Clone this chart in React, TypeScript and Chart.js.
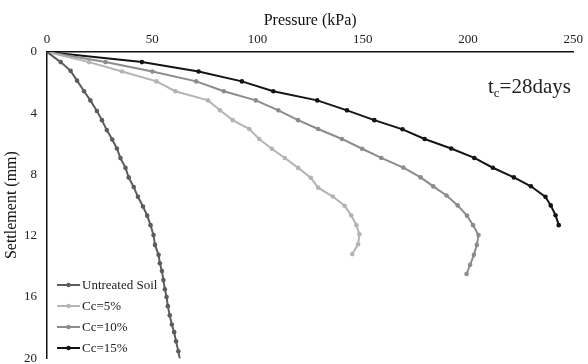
import React, { useEffect, useRef } from "react";
import { Chart, registerables } from "chart.js";

Chart.register(...registerables);

const seriesNames = ["Untreated Soil", "Cc=5%", "Cc=10%", "Cc=15%"];
const seriesColors = ["#5c5c5c", "#b4b4b4", "#8c8c8c", "#141414"];

const untreatedP = [0, 6.5, 11.2, 14.3, 17.6, 20.6, 23.7, 26.1, 28.4, 31, 33.2, 34.9, 37.3, 38.8, 41.2, 43.2, 45.6, 47.6, 49.2, 50.6, 51.3, 53, 53.6, 54.6, 55.3, 56, 56.8, 57.4, 58.3, 59.3, 60.4, 61.3, 62.4, 63.3];
const untreatedS = [0, 0.66, 1.23, 1.87, 2.56, 3.16, 3.85, 4.45, 5.1, 5.72, 6.3, 6.93, 7.57, 8.19, 8.82, 9.46, 10.09, 10.69, 11.31, 11.96, 12.6, 13.25, 13.8, 14.3, 14.9, 15.5, 16, 16.6, 17.2, 17.8, 18.3, 18.9, 19.55, 20.2];

const cc5P = [0, 20, 35.7, 52, 61, 76.5, 82.2, 88.2, 96.1, 100.8, 106.8, 113, 119.3, 125.3, 128.8, 135.8, 141.4, 144.5, 147, 148.4, 147.8, 145];
const cc5S = [0, 0.66, 1.27, 1.92, 2.56, 3.16, 3.81, 4.45, 5.03, 5.68, 6.32, 6.92, 7.57, 8.21, 8.86, 9.44, 10.04, 10.67, 11.31, 11.91, 12.56, 13.2];

const cc10P = [0, 27.8, 50.1, 70.9, 84, 99.2, 109.9, 119.3, 128.8, 140.1, 149.7, 158.8, 169.3, 177.5, 183.5, 189.8, 195.1, 199.5, 202.4, 205, 204.2, 202.8, 201, 199.3];
const cc10S = [0, 0.66, 1.27, 1.92, 2.56, 3.16, 3.81, 4.45, 5.03, 5.68, 6.32, 6.92, 7.55, 8.19, 8.78, 9.37, 10.02, 10.69, 11.31, 11.96, 12.6, 13.25, 13.9, 14.5];

const cc15P = [0, 45.1, 72, 92.6, 107.5, 128.4, 142.5, 155.5, 168.9, 179.4, 192, 203, 211.8, 221.8, 229.9, 236.8, 239.3, 241.6, 243.1];
const cc15S = [0, 0.66, 1.27, 1.92, 2.56, 3.16, 3.81, 4.45, 5.05, 5.68, 6.3, 6.92, 7.56, 8.19, 8.77, 9.46, 10.02, 10.66, 11.31];

const seriesP = [untreatedP, cc5P, cc10P, cc15P];
const seriesS = [untreatedS, cc5S, cc10S, cc15S];

const xTitle = "Pressure (kPa)";
const yTitle = "Settlement (mm)";
const annoMain = "t";
const annoSub = "c";
const annoRest = "=28days";

const FONT = "'Liberation Serif', 'Times New Roman', serif";

const overlayPlugin = {
  id: "overlay",
  afterDraw(chart: any) {
    const ctx = chart.ctx;
    ctx.save();
    // legend
    ctx.font = `13px ${FONT}`;
    ctx.textBaseline = "middle";
    ctx.textAlign = "left";
    chart.data.datasets.forEach((ds: any, i: number) => {
      const y = 285 + i * 21;
      ctx.strokeStyle = ds.borderColor;
      ctx.lineWidth = 2;
      ctx.beginPath();
      ctx.moveTo(57, y);
      ctx.lineTo(80, y);
      ctx.stroke();
      ctx.fillStyle = ds.borderColor;
      ctx.beginPath();
      ctx.arc(68.5, y, 2.2, 0, Math.PI * 2);
      ctx.fill();
      ctx.fillStyle = "#222";
      ctx.fillText(ds.label, 82, y + 1);
    });
    // annotation
    ctx.textBaseline = "alphabetic";
    ctx.fillStyle = "#222";
    let x = 488;
    const base = 93;
    ctx.font = `21px ${FONT}`;
    ctx.fillText(annoMain, x, base);
    x += ctx.measureText(annoMain).width;
    ctx.font = `13px ${FONT}`;
    ctx.fillText(annoSub, x, base + 4);
    x += ctx.measureText(annoSub).width;
    ctx.font = `21px ${FONT}`;
    ctx.fillText(annoRest, x, base);
    ctx.restore();
  },
};

export default function App() {
  const ref = useRef<HTMLCanvasElement | null>(null);
  useEffect(() => {
    document.body.style.margin = "0";
    const canvas = ref.current!;
    const datasets = seriesNames.map((name, i) => ({
      label: name,
      data: seriesP[i].map((p, j) => ({ x: p, y: seriesS[i][j] })),
      borderColor: seriesColors[i],
      backgroundColor: seriesColors[i],
      borderWidth: 2,
      pointRadius: 2.3,
      pointBorderWidth: 0,
      pointBackgroundColor: seriesColors[i],
      tension: 0,
      fill: false,
    }));
    const chart = new Chart(canvas, {
      type: "line",
      data: { datasets },
      options: {
        animation: false,
        responsive: false,
        devicePixelRatio: 1,
        layout: { padding: { top: 0, left: 0, right: 11, bottom: 14 } },
        plugins: { legend: { display: false }, tooltip: { enabled: false } },
        scales: {
          x: {
            type: "linear",
            position: "top",
            min: 0,
            max: 250,
            grid: { display: false, drawTicks: false },
            border: { display: true, color: "#111", width: 1.5 },
            ticks: { stepSize: 50, padding: 5, color: "#222", font: { family: FONT, size: 13 } },
            title: { display: true, text: xTitle, color: "#111", padding: { top: 11, bottom: 0 }, font: { family: FONT, size: 16 } },
            afterFit: (s: any) => { s.height = 52; },
          },
          y: {
            type: "linear",
            reverse: true,
            min: 0,
            max: 20,
            grid: { display: false, drawTicks: false },
            border: { display: true, color: "#111", width: 1.5 },
            ticks: { stepSize: 4, padding: 10, color: "#222", font: { family: FONT, size: 13 } },
            title: { display: true, text: yTitle, color: "#111", padding: { top: 2, bottom: 0 }, font: { family: FONT, size: 16 } },
            afterFit: (s: any) => { s.width = 47; },
          },
        },
      },
      plugins: [overlayPlugin],
    } as any);
    return () => chart.destroy();
  }, []);
  return (
    <div style={{ position: "fixed", left: 0, top: 0, width: 588, height: 364, overflow: "hidden", background: "#fff" }}>
      <canvas ref={ref} width={588} height={376} style={{ display: "block", width: 588, height: 376 }} />
    </div>
  );
}
